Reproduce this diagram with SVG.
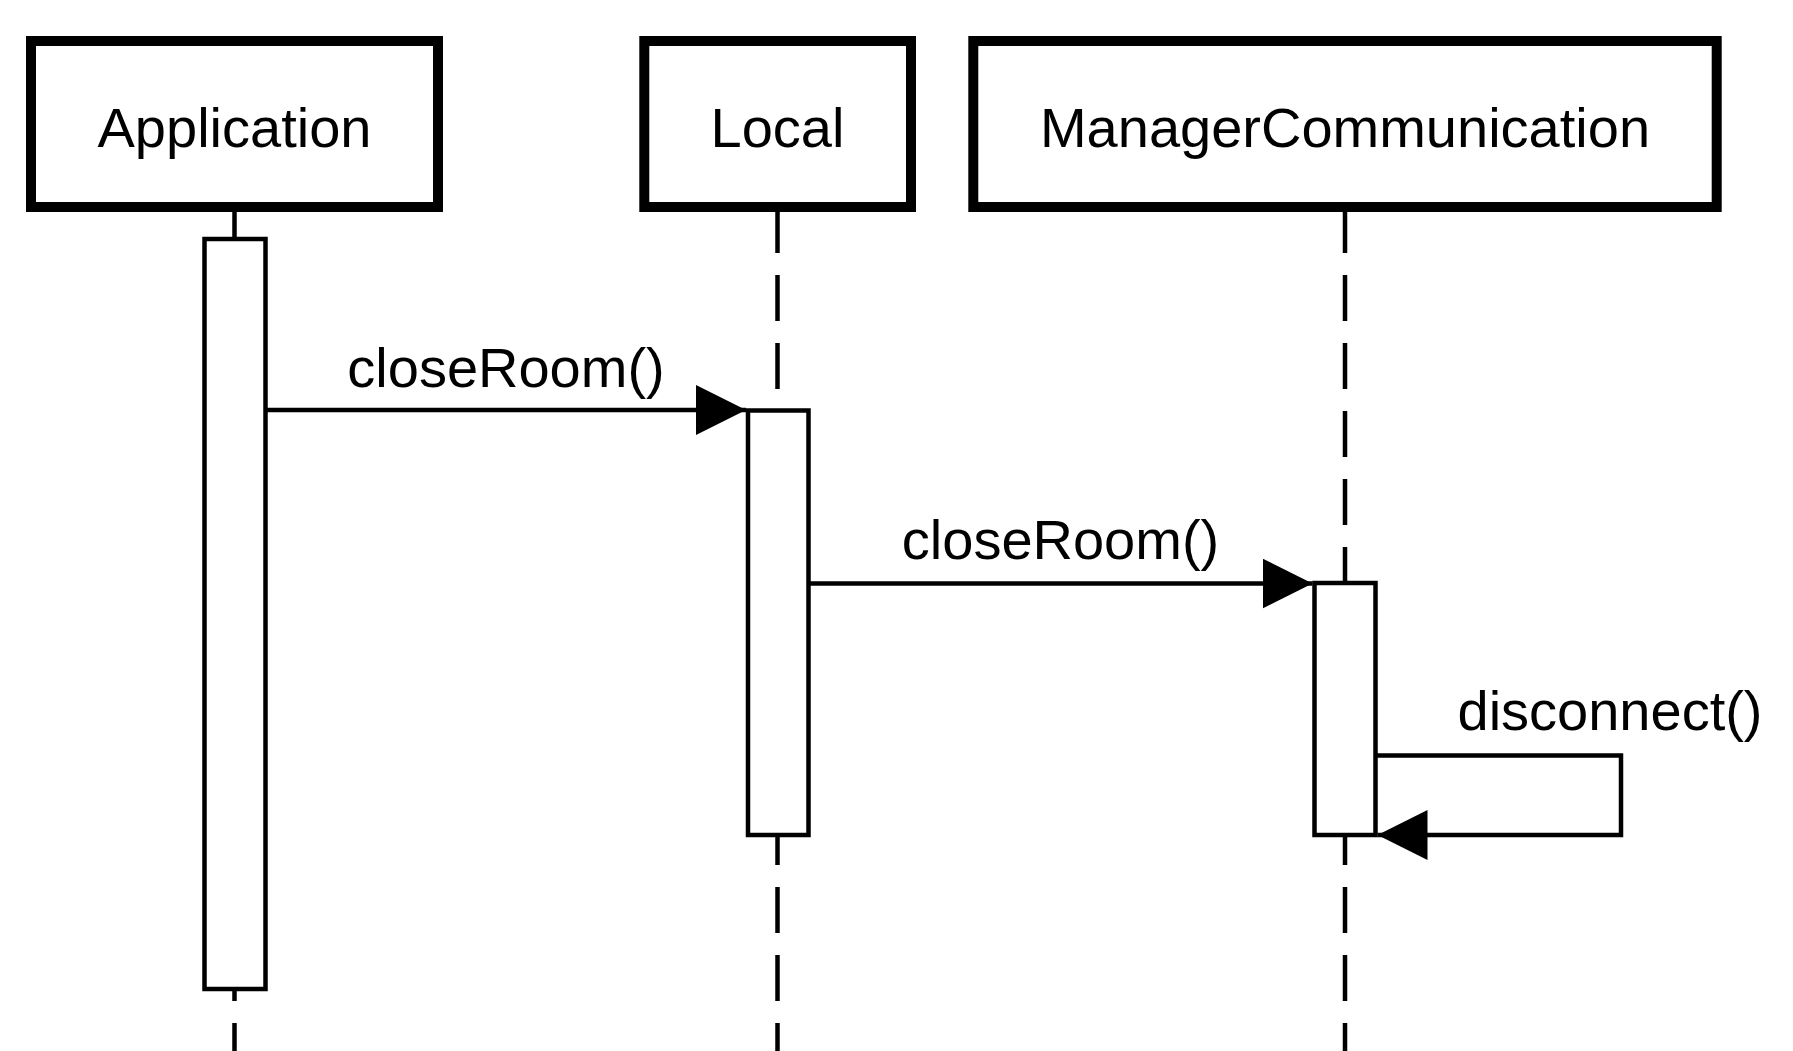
<svg xmlns="http://www.w3.org/2000/svg" width="1793" height="1051" viewBox="0 0 1793 1051">
<style>
.box{fill:#fff;stroke:#000;stroke-width:10}
.act{fill:#fff;stroke:#000;stroke-width:4.5}
.life{fill:none;stroke:#000;stroke-width:4.5;stroke-dasharray:46 22}
.msg{fill:none;stroke:#000;stroke-width:4.5}
text{font-family:"Liberation Sans",Arial,sans-serif;font-size:56px;fill:#000}
</style>
<defs>
<marker id="arr" markerUnits="userSpaceOnUse" markerWidth="50" markerHeight="50" refX="50" refY="25" orient="auto">
<path d="M0,0 L50,25 L0,50 Z" fill="#000"/>
</marker>
</defs>
<rect width="1793" height="1051" fill="#fff"/>
<g id="lifelines">
<line class="life" x1="234.5" y1="207" x2="234.5" y2="1060"/>
<line class="life" x1="777.5" y1="207" x2="777.5" y2="1060"/>
<line class="life" x1="1345" y1="207" x2="1345" y2="1060"/>
</g>
<g id="node-application">
<rect class="box" x="31" y="41" width="407" height="166"/>
<text x="234.5" y="147" text-anchor="middle">Application</text>
</g>
<g id="node-local">
<rect class="box" x="644.3" y="41" width="266.7" height="166"/>
<text x="777.5" y="147" text-anchor="middle">Local</text>
</g>
<g id="node-manager">
<rect class="box" x="973.3" y="41" width="743.4" height="166"/>
<text x="1345" y="147" text-anchor="middle">ManagerCommunication</text>
</g>
<g id="activations">
<rect class="act" x="204.5" y="239" width="61" height="750"/>
<rect class="act" x="748" y="410.5" width="60.5" height="424.5"/>
<rect class="act" x="1314.5" y="583" width="61" height="252"/>
</g>
<g id="connectors">
<line class="msg" x1="267" y1="410" x2="746" y2="410" marker-end="url(#arr)"/>
<text x="506" y="387" text-anchor="middle">closeRoom()</text>
<line class="msg" x1="810" y1="583.5" x2="1312.5" y2="583.5" marker-end="url(#arr)"/>
<text x="1060.5" y="558.5" text-anchor="middle">closeRoom()</text>
<path class="msg" d="M1377,755.5 H1621 V835 H1377.5" marker-end="url(#arr)"/>
<text x="1610" y="730" text-anchor="middle">disconnect()</text>
</g>
</svg>
